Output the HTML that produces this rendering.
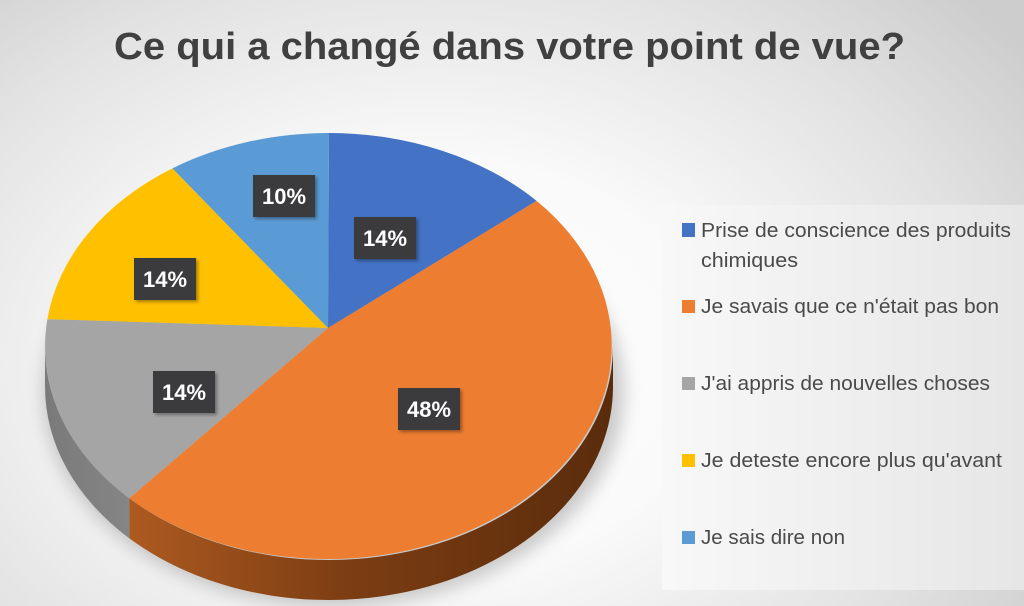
<!DOCTYPE html>
<html>
<head>
<meta charset="utf-8">
<style>
  html, body { margin:0; padding:0; }
  body {
    width:1024px; height:606px; overflow:hidden;
    background: radial-gradient(ellipse 72% 88% at 42% 60%, #ffffff 0%, #fafafa 38%, #e2e2e2 75%, #cdcdcd 100%);
    font-family: "Liberation Sans", sans-serif;
  }
  svg { position:absolute; left:0; top:0; }
</style>
</head>
<body>
<svg width="1024" height="606" viewBox="0 0 1024 606" xmlns="http://www.w3.org/2000/svg">
  <defs>
    <filter id="blur" x="-20%" y="-20%" width="140%" height="140%">
      <feGaussianBlur stdDeviation="9"/>
    </filter>
    <filter id="lblshadow" x="-20%" y="-20%" width="150%" height="160%">
      <feDropShadow dx="2" dy="2" stdDeviation="1.5" flood-color="#000" flood-opacity="0.35"/>
    </filter>
    <linearGradient id="orangeSide" x1="0" y1="0" x2="1" y2="0">
      <stop offset="0" stop-color="#ad5a20"/>
      <stop offset="0.45" stop-color="#7c3d13"/>
      <stop offset="1" stop-color="#5a2c0c"/>
    </linearGradient>
    <linearGradient id="graySide" x1="0" y1="0" x2="1" y2="0">
      <stop offset="0" stop-color="#7a7a7a"/>
      <stop offset="1" stop-color="#858585"/>
    </linearGradient>
    <linearGradient id="legendBg" x1="0" y1="0" x2="1" y2="0">
      <stop offset="0" stop-color="#f8f8f8"/>
      <stop offset="1" stop-color="#e6e6e6"/>
    </linearGradient>
  </defs>

  <!-- Title -->
  <text x="114" y="59" font-family="Liberation Sans, sans-serif" font-weight="bold" font-size="38" fill="#404040" textLength="791" lengthAdjust="spacingAndGlyphs">Ce qui a changé dans votre point de vue?</text>

  <!-- Legend box -->
  <rect x="662" y="205" width="362" height="385" fill="url(#legendBg)"/>

  <!-- Pie shadow -->
  <ellipse cx="334" cy="392" rx="290" ry="214" fill="#000" opacity="0.2" filter="url(#blur)"/>

  <!-- Sides -->
  <path d="M613,346.5 A284,213.5 0 0 1 129.3,498.3 L129.3,538.3 A284,213.5 0 0 0 613,386.5 Z" fill="url(#orangeSide)"/>
  <path d="M129.3,498.3 A284,213.5 0 0 1 45,346.5 L45,386.5 A284,213.5 0 0 0 129.3,538.3 Z" fill="url(#graySide)"/>

  <!-- Top faces -->
  <path d="M328,328 L329,133 A284,213.5 0 0 1 536.6,200.9 Z" fill="#4472c4"/>
  <path d="M328,328 L536.6,200.9 A284,213.5 0 0 1 129.3,498.3 Z" fill="#ed7d31"/>
  <path d="M328,328 L129.3,498.3 A284,213.5 0 0 1 47.4,319.1 Z" fill="#a5a5a5"/>
  <path d="M328,328 L47.4,319.1 A284,213.5 0 0 1 172.4,168.4 Z" fill="#ffc000"/>
  <path d="M328,328 L172.4,168.4 A284,213.5 0 0 1 329,133 Z" fill="#5b9bd5"/>

  <!-- Data labels -->
  <g font-family="Liberation Sans, sans-serif" font-weight="bold" font-size="22" fill="#ffffff" text-anchor="middle">
    <rect x="253" y="175" width="62" height="42" fill="#3b3b3d" filter="url(#lblshadow)"/>
    <text x="284" y="204" textLength="44" lengthAdjust="spacingAndGlyphs">10%</text>

    <rect x="354" y="217" width="62" height="42" fill="#3b3b3d" filter="url(#lblshadow)"/>
    <text x="385" y="246" textLength="44" lengthAdjust="spacingAndGlyphs">14%</text>

    <rect x="134" y="258" width="62" height="42" fill="#3b3b3d" filter="url(#lblshadow)"/>
    <text x="165" y="287" textLength="44" lengthAdjust="spacingAndGlyphs">14%</text>

    <rect x="153" y="371" width="62" height="42" fill="#3b3b3d" filter="url(#lblshadow)"/>
    <text x="184" y="400" textLength="44" lengthAdjust="spacingAndGlyphs">14%</text>

    <rect x="398" y="388" width="62" height="42" fill="#3b3b3d" filter="url(#lblshadow)"/>
    <text x="429" y="417" textLength="44" lengthAdjust="spacingAndGlyphs">48%</text>
  </g>

  <!-- Legend -->
  <g font-family="Liberation Sans, sans-serif" font-size="20" fill="#4a4a4a">
    <rect x="682" y="223" width="13" height="14" fill="#4472c4"/>
    <text x="701" y="237" textLength="310" lengthAdjust="spacingAndGlyphs">Prise de conscience des produits</text>
    <text x="701" y="267" textLength="97" lengthAdjust="spacingAndGlyphs">chimiques</text>

    <rect x="682" y="300" width="13" height="13" fill="#ed7d31"/>
    <text x="701" y="313" textLength="298" lengthAdjust="spacingAndGlyphs">Je savais que ce n'était pas bon</text>

    <rect x="682" y="377" width="13" height="13" fill="#a5a5a5"/>
    <text x="701" y="390" textLength="289" lengthAdjust="spacingAndGlyphs">J'ai appris de nouvelles choses</text>

    <rect x="682" y="454" width="13" height="13" fill="#ffc000"/>
    <text x="701" y="467" textLength="301" lengthAdjust="spacingAndGlyphs">Je deteste encore plus qu'avant</text>

    <rect x="682" y="531" width="13" height="13" fill="#5b9bd5"/>
    <text x="701" y="544" textLength="144" lengthAdjust="spacingAndGlyphs">Je sais dire non</text>
  </g>
</svg>
</body>
</html>
